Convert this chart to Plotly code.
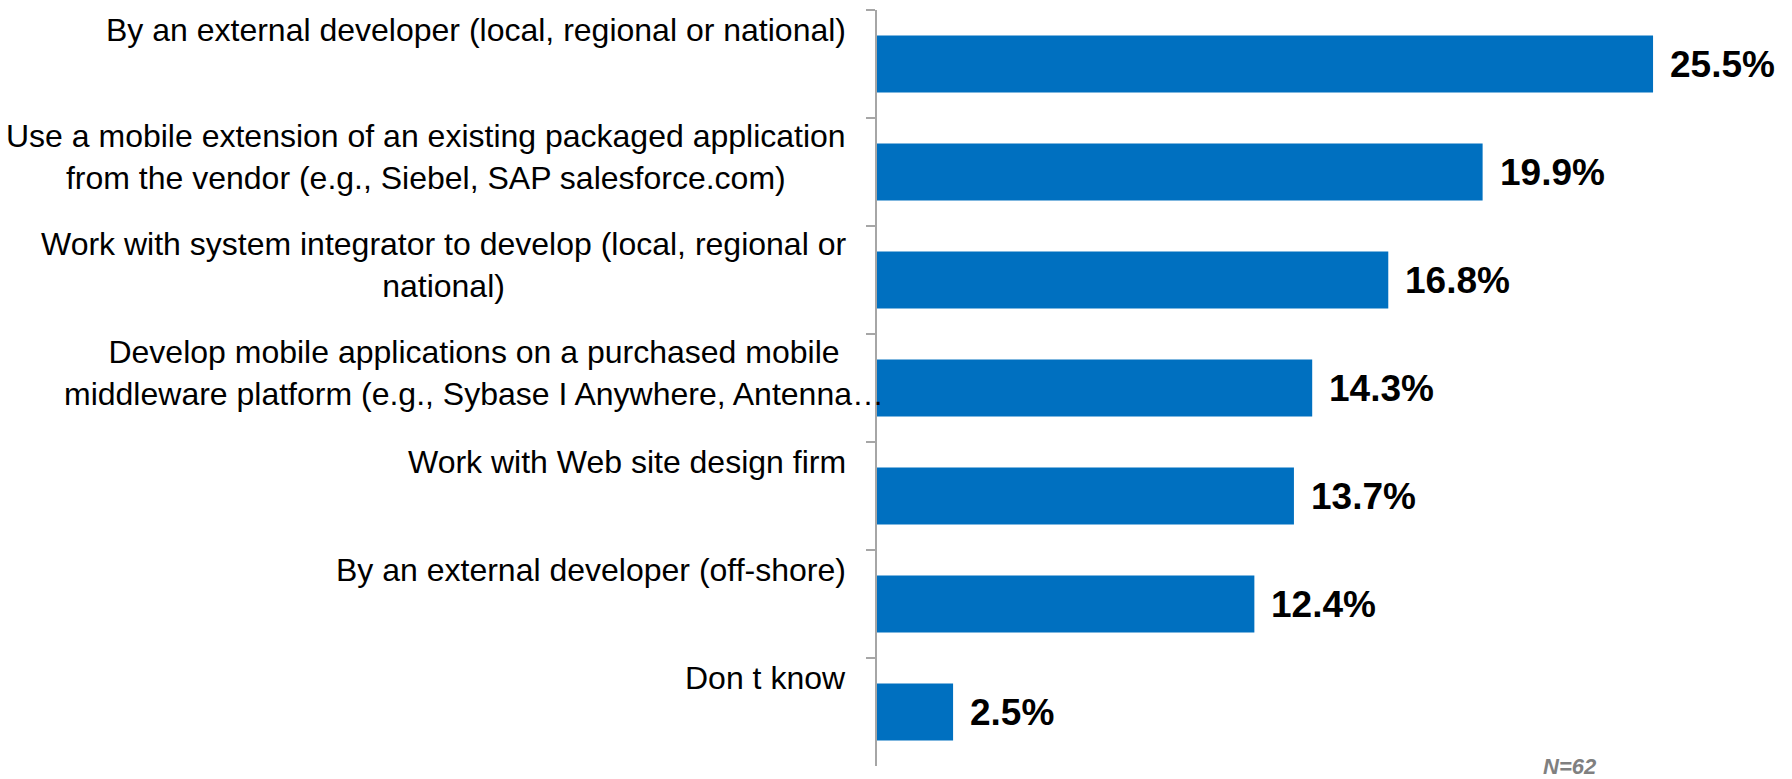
import plotly.graph_objects as go

# Survey answers, top to bottom
categories = [
    "By an external developer (local, regional or national)",
    "Use a mobile extension of an existing packaged application<br>from the vendor (e.g., Siebel, SAP salesforce.com)",
    "Work with system integrator to develop (local, regional or<br>national)",
    "Develop mobile applications on a purchased mobile<br>middleware platform (e.g., Sybase I Anywhere, Antenna…",
    "Work with Web site design firm",
    "By an external developer (off-shore)",
    "Don t know",
]
values = [25.5, 19.9, 16.8, 14.3, 13.7, 12.4, 2.5]
sample_note = "N=62"

FONT = "Liberation Sans, Arial, sans-serif"
BAR_BLUE = "#0070C0"
AXIS_GREY = "#A6A6A6"

ids = [f"c{i}" for i in range(len(categories))]

fig = go.Figure(
    go.Bar(
        x=values,
        y=ids,
        orientation="h",
        marker=dict(color=BAR_BLUE, line=dict(width=0)),
        width=0.53,
        hoverinfo="skip",
    )
)

annotations = []
# Category labels sit right-aligned next to the axis, anchored at the top of each band
for i, label in enumerate(categories):
    overflow = 38 if label.endswith("…") else 0
    two_line = "<br>" in label
    annotations.append(
        dict(
            text=label,
            xref="paper",
            x=0,
            xanchor="right",
            xshift=-29 + overflow,
            yref="y",
            y=i - 0.5,
            yanchor="top",
            yshift=2 if two_line else 0,
            align="center",
            showarrow=False,
            font=dict(family=FONT, size=32, color="#000000"),
        )
    )

# Value labels just past the end of each bar
for i, v in enumerate(values):
    annotations.append(
        dict(
            text=f"<b>{v:.1f}%</b>",
            xref="x",
            x=v,
            xanchor="left",
            xshift=15,
            yref="y",
            y=ids[i],
            yanchor="middle",
            showarrow=False,
            font=dict(family=FONT, size=37, color="#000000"),
        )
    )

annotations.append(
    dict(
        text=f"<b><i>{sample_note}</i></b>",
        xref="paper",
        x=0.759,
        xanchor="center",
        yref="paper",
        y=-0.001,
        yanchor="middle",
        showarrow=False,
        font=dict(family=FONT, size=22, color="#808080"),
    )
)

fig.update_layout(
    width=1792,
    height=779,
    margin=dict(l=877, r=2, t=10, b=13),
    paper_bgcolor="#FFFFFF",
    plot_bgcolor="#FFFFFF",
    showlegend=False,
    annotations=annotations,
    xaxis=dict(
        range=[0, 30],
        visible=False,
        showgrid=False,
        zeroline=False,
    ),
    yaxis=dict(
        type="category",
        categoryorder="array",
        categoryarray=ids,
        range=[len(ids) - 0.5, -0.5],
        showticklabels=False,
        showgrid=False,
        zeroline=False,
        showline=True,
        linecolor=AXIS_GREY,
        linewidth=2,
        ticks="outside",
        tickson="boundaries",
        ticklen=9,
        tickwidth=2,
        tickcolor=AXIS_GREY,
    ),
)

fig.write_html("out.html")
